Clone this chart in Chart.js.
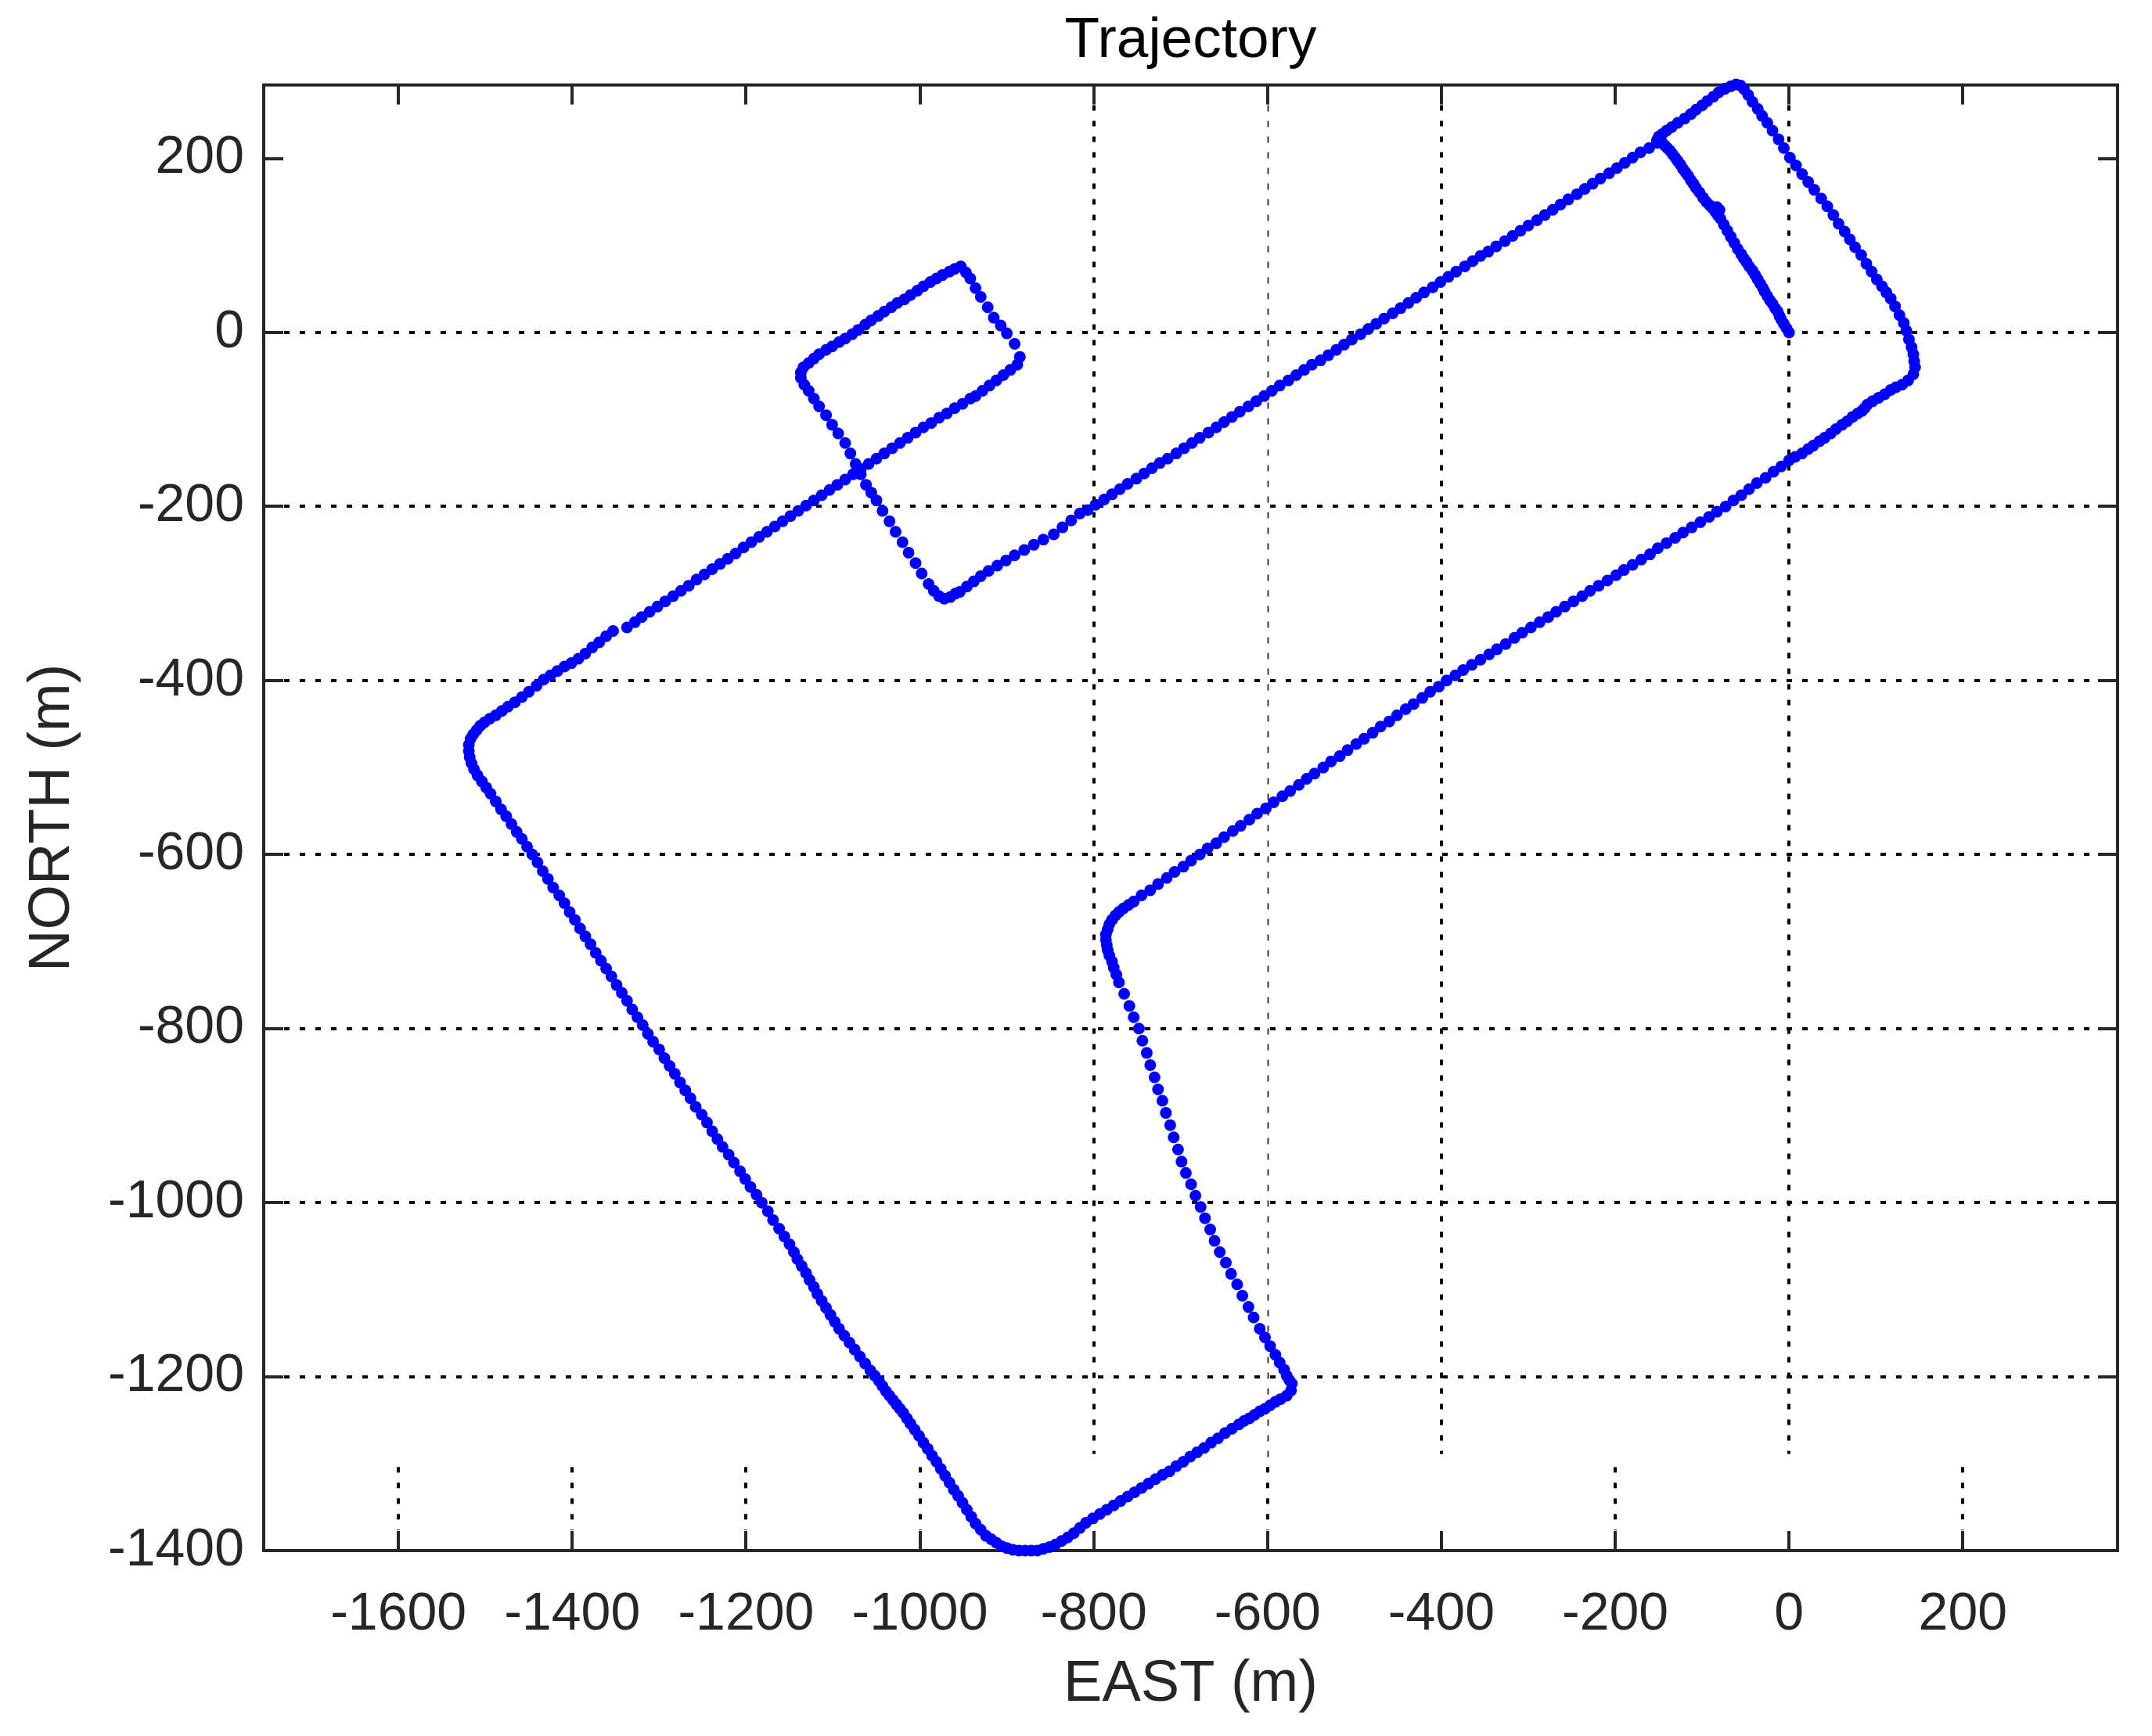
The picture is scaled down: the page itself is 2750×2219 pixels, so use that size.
<!DOCTYPE html>
<html>
<head>
<meta charset="utf-8">
<title>Trajectory</title>
<script src="https://cdn.jsdelivr.net/npm/chart.js@4.4.0/dist/chart.umd.min.js"></script>
<style>
    html, body { margin: 0; padding: 0; background: #fff; }
    #trajChart { display: block; width: 2750px; height: 2219px; }
</style>
</head>
<body>
<canvas id="trajChart" width="2750" height="2219"></canvas>
<script>
// Axis ticks (m)
const xTicks = [-1600, -1400, -1200, -1000, -800, -600, -400, -200, 0, 200];
const yTicks = [-1400, -1200, -1000, -800, -600, -400, -200, 0, 200];

// Trajectory samples [EAST, NORTH] in metres, read leg by leg off the plot
const legStart = [
    [0,0],[-3,5],[-6,10],[-9,15],[-11,19],[-13,24],[-16,28],[-19,33],[-22,37],[-25,42],
    [-28,47],[-30,51],[-33,56],[-36,61],[-39,66],[-42,71],[-46,76],[-49,81],[-52,85],[-55,90],
    [-59,96],[-63,103],[-67,110],[-71,117],[-75,124],[-79,131],[-82,135],[-85,139],[-80,141],[-83,144],
    [-88,143],[-91,146],[-95,150],[-99,155],[-103,161],[-107,166],[-110,171],[-113,175],[-116,180],[-119,184],
    [-122,188],[-125,193],[-128,197],[-131,201],[-134,205],[-137,209],[-140,212],[-143,215],[-146,218],[-149,220],
    [-152,221]
];
const legNorthLoop = [
    [-150,225],[-146,228],[-141,232],[-135,236],[-128,241],[-120,246],[-113,251],[-107,256],[-100,261],[-94,266],
    [-87,271],[-81,276],[-74,280],[-67,283],[-61,285],[-56,284],
    [-52,280],[-47,273],[-42,265],[-36,257],[-31,249],[-25,241],[-19,232],[-12,222],[-6,212],[1,201],
    [8,192],[15,182],[22,173],[29,164],[37,154],[44,145],[51,135],[57,125],[64,116],[70,107],
    [76,98],[83,89],[89,79],[95,70],[101,61],[107,53],[112,46],[117,39],[122,30],[127,20],
    [132,11],[135,2],[138,-8],[141,-17],[143,-25],[144,-33],[145,-40],
    [143,-48],[137,-55],[130,-60],[123,-63],[117,-66],[110,-71],[103,-75],[96,-79],[90,-83],[87,-87],
    [84,-90],[79,-93],[73,-97],[67,-102],[61,-106],[54,-111],[48,-116],[41,-121],[35,-125],[28,-130],
    [22,-134],[15,-139],[7,-143],[0,-147]
];
const legSouthWest = [
    [-9,-154],[-18,-160],[-27,-167],[-37,-173],[-46,-180],[-55,-187],[-64,-193],[-73,-200],
    [-83,-206],[-92,-212],[-102,-218],[-112,-224],[-122,-230],[-131,-236],[-141,-242],[-151,-248],[-160,-255],[-170,-261],
    [-180,-267],[-190,-273],[-199,-279],[-209,-285],[-219,-291],[-229,-297],[-238,-303],[-248,-309],[-258,-315],[-268,-321],
    [-277,-327],[-287,-333],[-297,-339],[-307,-345],[-316,-351],[-326,-358],[-336,-364],[-345,-370],[-355,-376],[-365,-382],
    [-375,-388],[-384,-394],[-394,-400],
    [-403,-407],[-413,-413],[-422,-420],[-432,-427],[-441,-433],[-451,-440],[-460,-447],[-470,-453],[-479,-460],[-489,-467],
    [-498,-473],[-508,-480],[-517,-487],[-527,-493],[-536,-500],[-546,-507],[-555,-513],[-564,-520],[-574,-527],[-583,-533],
    [-593,-540],[-602,-547],[-612,-553],[-621,-560],[-631,-567],[-640,-573],[-650,-580],[-659,-587],[-669,-593],[-678,-600],
    [-688,-607],[-697,-614],[-707,-620],[-716,-627],[-726,-634],[-735,-641],[-745,-647],[-754,-654],
    [-760,-658],[-766,-662],[-771,-666],[-775,-670],[-779,-675],[-782,-680],[-784,-686],[-786,-692],[-786,-698],[-785,-704],
    [-784,-710],[-782,-716],[-779,-723],[-777,-730],[-774,-738],[-771,-747]
];
const legSouth = [
    [-765,-760],[-759,-774],[-754,-787],[-748,-800],[-744,-814],[-739,-828],[-735,-842],[-730,-856],[-726,-870],[-721,-883],
    [-717,-897],[-712,-911],[-708,-925],[-703,-939],[-699,-953],[-694,-966],[-688,-979],[-683,-992],[-677,-1005],[-672,-1018],
    [-666,-1031],[-661,-1044],[-655,-1057],[-648,-1069],[-642,-1082],[-635,-1094],[-629,-1107],[-622,-1120],[-616,-1132],[-609,-1145],
    [-603,-1155],[-597,-1165],[-591,-1175],[-586,-1184],[-581,-1192],[-578,-1199],[-575,-1204],[-572,-1208]
];
const legBottom = [
    [-573,-1216],[-578,-1222],[-585,-1226],[-591,-1229],[-597,-1233],[-603,-1237],[-609,-1240],[-615,-1244],[-621,-1248],[-627,-1251],
    [-633,-1255],[-641,-1260],[-649,-1265],[-657,-1271],[-665,-1276],[-673,-1282],[-681,-1287],[-689,-1292],[-697,-1298],[-705,-1303],
    [-713,-1309],[-721,-1313],[-729,-1318],[-737,-1323],[-745,-1328],[-753,-1333],[-761,-1338],[-769,-1343],[-777,-1348],[-785,-1353],
    [-793,-1358],[-801,-1363],[-809,-1368],[-816,-1374],[-823,-1380],[-830,-1385],[-837,-1389],[-844,-1393],[-851,-1396],[-858,-1398],
    [-865,-1400],[-872,-1400],[-879,-1400],[-886,-1400],[-893,-1399],[-900,-1397],[-906,-1395],[-912,-1391],[-918,-1387]
];
const legWest = [
    [-924,-1383],[-930,-1376],[-936,-1369],[-941,-1361],[-946,-1353],[-951,-1345],[-956,-1337],[-961,-1330],[-966,-1322],[-971,-1314],
    [-976,-1306],[-981,-1298],[-986,-1291],[-991,-1283],[-996,-1276],[-1001,-1268],[-1006,-1261],[-1011,-1254],[-1015,-1248],[-1019,-1242],
    [-1023,-1237],[-1027,-1232],[-1031,-1227],[-1035,-1222],[-1039,-1217],[-1043,-1211],[-1047,-1205],[-1052,-1199],[-1057,-1193],[-1063,-1185],
    [-1069,-1177],[-1075,-1169],[-1081,-1161],[-1087,-1153],[-1093,-1145],[-1098,-1137],[-1103,-1129],[-1108,-1121],[-1113,-1113],[-1118,-1105],
    [-1122,-1097],[-1127,-1089],[-1131,-1081],[-1136,-1073],[-1141,-1065],[-1145,-1057],[-1150,-1048],[-1156,-1039],[-1162,-1030],[-1169,-1020],
    [-1175,-1010],[-1182,-1000],[-1188,-991],[-1195,-982],[-1201,-973],[-1207,-964],[-1214,-954],[-1220,-945],[-1227,-936],[-1233,-927],
    [-1239,-918],[-1245,-908],[-1251,-899],[-1258,-890],[-1264,-880],[-1270,-871],[-1276,-862],[-1282,-852],[-1288,-843],[-1294,-834],
    [-1300,-824],[-1307,-815],[-1313,-806],[-1319,-796],[-1325,-787],
    [-1331,-778],[-1337,-768],[-1343,-759],[-1349,-750],[-1355,-740],[-1361,-731],[-1367,-722],[-1373,-713],[-1379,-703],[-1385,-694],
    [-1391,-685],[-1397,-675],[-1403,-666],[-1409,-656],[-1415,-647],[-1422,-638],[-1428,-628],[-1434,-619],[-1440,-609],[-1446,-600],
    [-1452,-591],[-1458,-582],[-1464,-574],[-1470,-565],[-1476,-556],[-1482,-548],[-1488,-539],[-1494,-530],
    [-1499,-523],[-1504,-516],[-1509,-509],[-1513,-502],[-1516,-495],[-1518,-488],[-1519,-481],[-1519,-474],[-1517,-467],[-1514,-462],
    [-1510,-457],[-1506,-452],[-1501,-448],[-1495,-444],[-1488,-440],[-1481,-435],[-1474,-430]
];
const legNorthEast = [
    [-1466,-425],[-1458,-419],[-1450,-413],[-1441,-406],[-1433,-399],[-1425,-394],[-1417,-389],[-1409,-384],[-1401,-380],[-1393,-375],
    [-1385,-369],[-1377,-362],[-1369,-356],[-1361,-349],[-1353,-343],
    [-1337,-339],[-1328,-333],[-1320,-327],[-1311,-321],[-1302,-315],[-1293,-309],[-1284,-303],[-1275,-297],[-1266,-291],[-1257,-284],
    [-1248,-278],[-1239,-272],[-1230,-266],[-1221,-260],[-1212,-254],[-1203,-247],[-1194,-241],[-1185,-235],[-1176,-229],[-1167,-223],
    [-1158,-217],[-1149,-211],[-1140,-205],[-1131,-199],[-1122,-193],[-1113,-187],[-1104,-181],[-1095,-175],[-1086,-169],[-1077,-163],
    [-1068,-157],[-1059,-151],[-1050,-145],[-1041,-139],[-1032,-133],[-1023,-127],[-1014,-121],[-1005,-115],[-996,-109],[-987,-104],
    [-978,-98],[-969,-93],[-960,-87],[-951,-82],[-942,-76],[-936,-73],[-928,-67],[-920,-61],[-912,-55],[-904,-49],
    [-896,-43],[-888,-37]
];
const legSmallLoop = [
    [-885,-28],[-891,-13],[-900,-1],[-907,8],[-915,17],[-922,29],[-930,41],[-936,51],[-942,62],[-947,69],
    [-953,76],[-960,73],[-966,70],[-974,66],[-981,62],[-988,58],[-996,53],[-1003,48],[-1011,43],[-1018,38],
    [-1026,34],[-1033,29],[-1041,24],[-1048,19],[-1056,14],[-1063,9],[-1071,3],[-1078,-2],[-1086,-7],[-1093,-11],
    [-1101,-16],[-1108,-20],[-1116,-25],[-1122,-30],[-1128,-35],[-1134,-40],[-1137,-46],[-1137,-52],[-1133,-60],[-1128,-67],
    [-1122,-76],[-1116,-85],[-1108,-95],[-1101,-106],[-1094,-116],[-1086,-127],[-1080,-139],[-1074,-151],[-1068,-163],[-1062,-175],
    [-1056,-184],[-1050,-193],[-1043,-205],[-1035,-217],[-1028,-229],[-1020,-241],[-1013,-253],[-1005,-265],[-998,-277],[-990,-289],
    [-984,-297],[-978,-303],[-972,-306],[-965,-304],[-959,-300],[-954,-298],[-946,-292],[-938,-286],[-930,-280],[-921,-274],
    [-911,-268],[-901,-262],[-891,-256],[-880,-250],[-869,-244],[-858,-238],[-846,-232],[-836,-224],[-826,-216],[-816,-208]
];
const legReturn = [
    [-807,-204],[-798,-198],[-788,-192],[-779,-186],[-770,-180],[-761,-174],[-751,-168],[-742,-162],[-733,-156],[-724,-150],
    [-715,-145],[-705,-139],[-696,-133],[-687,-127],[-678,-121],[-668,-115],[-659,-109],[-650,-103],[-641,-97],[-632,-91],
    [-622,-85],[-613,-79],[-604,-73],[-595,-67],[-586,-61],[-576,-55],[-567,-49],[-558,-43],[-549,-37],[-539,-32],
    [-530,-26],[-521,-20],[-512,-14],[-503,-8],[-493,-2],[-484,4],[-475,10],[-466,16],[-456,22],[-447,28],
    [-438,34],[-429,40],[-420,46],[-410,52],[-401,58],[-392,64],[-383,70],[-373,76],[-364,82],[-355,88],
    [-346,93],[-337,99],[-327,105],[-318,111],[-309,117],[-300,123],[-290,129],[-281,135],[-272,141],[-263,147],
    [-254,153],[-244,159],[-235,165],[-226,171],[-217,177],[-207,183],[-198,189],[-189,195],[-180,201],[-171,207],
    [-161,212],[-152,218]
];

const FONT = "'Liberation Sans', Arial, Helvetica, sans-serif";
const AXIS_COLOR = '#262626';

// MATLAB-like box, inward ticks and the (patchy) dotted grid of the original
const matlabAxes = {
    id: 'matlabAxes',
    beforeDatasetsDraw(chart) {
        const { ctx, chartArea: a, scales: { x, y } } = chart;
        const seg = (x1, y1, x2, y2) => {
            ctx.beginPath();
            ctx.moveTo(x1, y1);
            ctx.lineTo(x2, y2);
            ctx.stroke();
        };
        ctx.save();
        ctx.lineCap = 'butt';

        // horizontal grid (no line at +200 in the original)
        ctx.strokeStyle = '#000';
        ctx.lineWidth = 4;
        ctx.setLineDash([7, 13]);
        yTicks.filter(v => v <= 0).forEach(v => {
            const py = Math.round(y.getPixelForValue(v));
            seg(a.left + 26, py, a.right, py);
        });

        // vertical grid: full at -800/-400/0, short stubs near the bottom elsewhere
        const fullCols = [-800, -400, 0];
        xTicks.forEach(v => {
            const px = Math.round(x.getPixelForValue(v));
            if (fullCols.includes(v)) {
                seg(px, a.top + 26, px, y.getPixelForValue(-1289));
            } else {
                seg(px, y.getPixelForValue(-1304), px, a.bottom - 26);
            }
        });

        // thin dashed column at -600
        ctx.lineWidth = 1.8;
        ctx.strokeStyle = '#222';
        ctx.setLineDash([8, 12]);
        const p600 = Math.round(x.getPixelForValue(-600)) + 0.5;
        seg(p600, a.top + 26, p600, y.getPixelForValue(-1298));

        // box
        ctx.setLineDash([]);
        ctx.strokeStyle = AXIS_COLOR;
        ctx.lineWidth = 4;
        ctx.strokeRect(a.left, a.top, a.right - a.left, a.bottom - a.top);

        // inward ticks on all four sides
        const tl = 25;
        xTicks.forEach(v => {
            const px = Math.round(x.getPixelForValue(v));
            seg(px, a.bottom, px, a.bottom - tl);
            seg(px, a.top, px, a.top + tl);
        });
        yTicks.forEach(v => {
            const py = Math.round(y.getPixelForValue(v));
            seg(a.left, py, a.left + tl, py);
            seg(a.right, py, a.right - tl, py);
        });
        ctx.restore();
    }
};

document.addEventListener('DOMContentLoaded', () => {
    const legs = [legStart, legNorthLoop, legSouthWest, legSouth, legBottom,
                  legWest, legNorthEast, legSmallLoop, legReturn];
    const points = legs.flat().map(([e, n]) => ({ x: e, y: n }));

    const ctx = document.getElementById('trajChart').getContext('2d');
    new Chart(ctx, {
        type: 'scatter',
        data: {
            datasets: [{
                data: points,
                showLine: false,
                pointRadius: 7.5,
                pointHoverRadius: 7.5,
                pointBackgroundColor: '#0000ff',
                pointBorderWidth: 0,
                clip: false
            }]
        },
        options: {
            responsive: false,
            animation: false,
            devicePixelRatio: 1,
            layout: { padding: { left: 0, right: 44, top: 0, bottom: 0 } },
            plugins: {
                legend: { display: false },
                tooltip: { enabled: false },
                title: {
                    display: true,
                    text: 'Trajectory',
                    color: '#000',
                    fullSize: false,
                    font: { family: FONT, size: 73, weight: 'normal', lineHeight: 1.2 },
                    padding: { top: 9, bottom: 12 }
                }
            },
            scales: {
                x: {
                    type: 'linear',
                    position: 'bottom',
                    min: -1755,
                    max: 378,
                    afterBuildTicks: s => { s.ticks = xTicks.map(v => ({ value: v })); },
                    afterFit: s => { s.height = 237; },
                    grid: { display: false, drawTicks: false },
                    border: { display: false },
                    ticks: {
                        autoSkip: false,
                        maxRotation: 0,
                        padding: 41,
                        color: AXIS_COLOR,
                        font: { family: FONT, size: 68, lineHeight: 1.2 },
                        callback: v => String(v)
                    },
                    title: {
                        display: true,
                        text: 'EAST (m)',
                        color: AXIS_COLOR,
                        font: { family: FONT, size: 74, lineHeight: 1.2 },
                        padding: { top: 0, bottom: 21 }
                    }
                },
                y: {
                    type: 'linear',
                    position: 'left',
                    min: -1400,
                    max: 284.5,
                    afterBuildTicks: s => { s.ticks = yTicks.map(v => ({ value: v })); },
                    afterFit: s => { s.width = 337; },
                    grid: { display: false, drawTicks: false },
                    border: { display: false },
                    ticks: {
                        autoSkip: false,
                        padding: 25,
                        color: AXIS_COLOR,
                        font: { family: FONT, size: 68, lineHeight: 1.2 },
                        callback: v => String(v)
                    },
                    title: {
                        display: true,
                        text: 'NORTH (m)',
                        color: AXIS_COLOR,
                        font: { family: FONT, size: 74, lineHeight: 1.2 },
                        padding: { top: 23, bottom: 0 }
                    }
                }
            }
        },
        plugins: [matlabAxes]
    });
});
</script>
</body>
</html>
